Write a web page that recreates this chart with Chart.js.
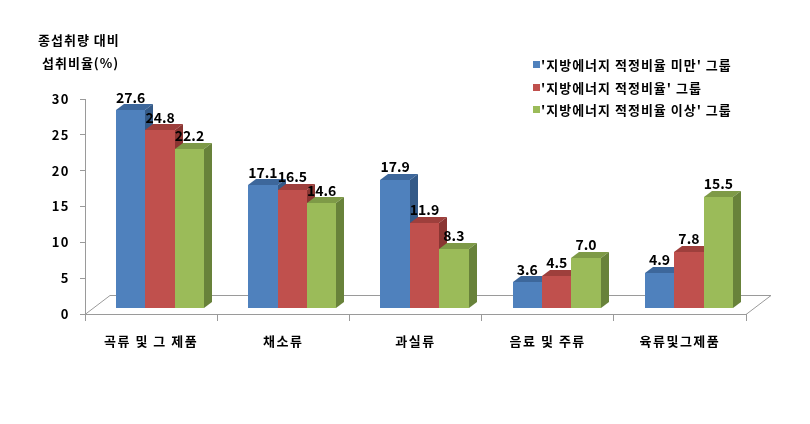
<!DOCTYPE html>
<html><head><meta charset="utf-8">
<script src="https://cdn.jsdelivr.net/npm/chart.js@4.4.1/dist/chart.umd.min.js"></script>
<style>
html,body{margin:0;padding:0;background:#fff;}
#wrap{position:relative;width:810px;height:424px;font-family:"Noto Sans CJK KR","Noto Sans",sans-serif;}
canvas{position:absolute;left:0;top:0;}
.t{position:absolute;font-weight:bold;font-size:13px;color:#000;white-space:nowrap;line-height:16px;letter-spacing:1px;}
.lg{position:absolute;font-weight:bold;font-size:13px;color:#000;white-space:nowrap;line-height:16px;letter-spacing:1px;}
.sw{position:absolute;width:7px;height:7px;}
</style></head>
<body><div id="wrap"><canvas id="c" width="810" height="424"></canvas>
<div class="t" style="left:38px;top:32px;">종섭취량 대비</div>
<div class="t" style="left:42px;top:55px;">섭취비율(%)</div>
<div id="legend"></div>
</div>
<script>
const categories = ['곡류 및 그 제품', '채소류', '과실류', '음료 및 주류', '육류및그제품'];
const seriesNames = ["'지방에너지 적정비율 미만' 그룹", "'지방에너지 적정비율' 그룹", "'지방에너지 적정비율 이상' 그룹"];
const belowValues = [27.6, 17.1, 17.9, 3.6, 4.9];
const properValues = [24.8, 16.5, 11.9, 4.5, 7.8];
const aboveValues = [22.2, 14.6, 8.3, 7.0, 15.5];
const yTicks = [0, 5, 10, 15, 20, 25, 30];

const frontColors = ['#4F81BD', '#C0504D', '#9BBB59'];
const topColors = ['#3D679B', '#9E3F3C', '#7E9A47'];
const sideColors = ['#345A88', '#8A3532', '#68823A'];

const lg = document.getElementById('legend');
seriesNames.forEach((n, i) => {
  const top = [57, 80, 102][i];
  const sw = document.createElement('div');
  sw.className = 'sw'; sw.style.left = '533px'; sw.style.top = (top + 4) + 'px'; sw.style.background = frontColors[i];
  lg.appendChild(sw);
  const t = document.createElement('div');
  t.className = 'lg'; t.style.left = '541px'; t.style.top = top + 'px'; t.textContent = n;
  lg.appendChild(t);
});

const OX = 9, OY = -6, DX = 8, DY = -6;
const FLOOR_DX = 25, FLOOR_DY = -19;

const bar3d = {
  id: 'bar3d',
  beforeDraw(chart) { chart.ctx.letterSpacing = '1.5px'; },
  beforeDatasetsDraw(chart) {
    const ctx = chart.ctx, a = chart.chartArea;
    ctx.letterSpacing = '0px';
    ctx.save();
    ctx.strokeStyle = '#9A9A9A'; ctx.lineWidth = 1;
    ctx.beginPath();
    ctx.moveTo(a.left, a.bottom + 0.5);
    ctx.lineTo(a.left + FLOOR_DX, a.bottom + FLOOR_DY + 0.5);
    ctx.lineTo(a.right + FLOOR_DX, a.bottom + FLOOR_DY + 0.5);
    ctx.lineTo(a.right, a.bottom + 0.5);
    ctx.stroke();
    ctx.restore();
  },
  afterDatasetsDraw(chart) {
    const ctx = chart.ctx;
    ctx.save();
    chart.data.datasets.forEach((ds, di) => {
      const meta = chart.getDatasetMeta(di);
      meta.data.forEach((el, i) => {
        const p = el.getProps(['x', 'y', 'base', 'width'], true);
        const l = Math.round(p.x - p.width / 2 + OX), r = Math.round(p.x + p.width / 2 + OX);
        const t = Math.round(p.y + OY), b = Math.round(p.base + OY);
        ctx.fillStyle = frontColors[di];
        ctx.fillRect(l, t, r - l, b - t);
        ctx.fillStyle = topColors[di];
        ctx.beginPath();
        ctx.moveTo(l, t); ctx.lineTo(l + DX, t + DY); ctx.lineTo(r + DX, t + DY); ctx.lineTo(r, t); ctx.closePath();
        ctx.fill();
        ctx.fillStyle = sideColors[di];
        ctx.beginPath();
        ctx.moveTo(r, t); ctx.lineTo(r + DX, t + DY); ctx.lineTo(r + DX, b + DY); ctx.lineTo(r, b); ctx.closePath();
        ctx.fill();
      });
    });
    ctx.fillStyle = '#000';
    ctx.font = 'bold 14px "Noto Sans CJK KR", "Noto Sans", sans-serif';
    ctx.textAlign = 'center'; ctx.textBaseline = 'bottom';
    chart.data.datasets.forEach((ds, di) => {
      const meta = chart.getDatasetMeta(di);
      meta.data.forEach((el, i) => {
        const p = el.getProps(['x', 'y'], true);
        ctx.fillText(ds.data[i].toFixed(1), p.x + OX, p.y + OY + DY);
      });
    });
    ctx.restore();
  }
};

new Chart(document.getElementById('c'), {
  type: 'bar',
  data: {
    labels: categories,
    datasets: [
      { label: seriesNames[0], data: belowValues, backgroundColor: 'rgba(0,0,0,0)' },
      { label: seriesNames[1], data: properValues, backgroundColor: 'rgba(0,0,0,0)' },
      { label: seriesNames[2], data: aboveValues, backgroundColor: 'rgba(0,0,0,0)' }
    ]
  },
  options: {
    responsive: false,
    animation: false,
    events: [],
    layout: { padding: { top: 99, right: 64, left: 0, bottom: 0 } },
    plugins: { legend: { display: false }, tooltip: { enabled: false } },
    datasets: { bar: { categoryPercentage: 0.667, barPercentage: 1.0 } },
    scales: {
      x: {
        grid: { offset: true, drawOnChartArea: false, tickLength: 7, color: '#9A9A9A' },
        border: { color: '#9A9A9A' },
        ticks: { color: '#000', padding: 12, font: { family: '"Noto Sans CJK KR"', weight: 'bold', size: 13 }, maxRotation: 0 },
        afterFit(s) { s.height = 110; }
      },
      y: {
        min: 0, max: 30,
        afterBuildTicks(s) { s.ticks = yTicks.map(v => ({ value: v })); },
        grid: { drawOnChartArea: false, tickLength: 5, color: '#9A9A9A' },
        border: { color: '#9A9A9A' },
        ticks: { color: '#000', padding: 10, font: { family: '"Noto Sans CJK KR"', weight: 'bold', size: 13 } },
        afterFit(s) { s.width = 85; }
      }
    }
  },
  plugins: [bar3d]
});
</script>
</body></html>
